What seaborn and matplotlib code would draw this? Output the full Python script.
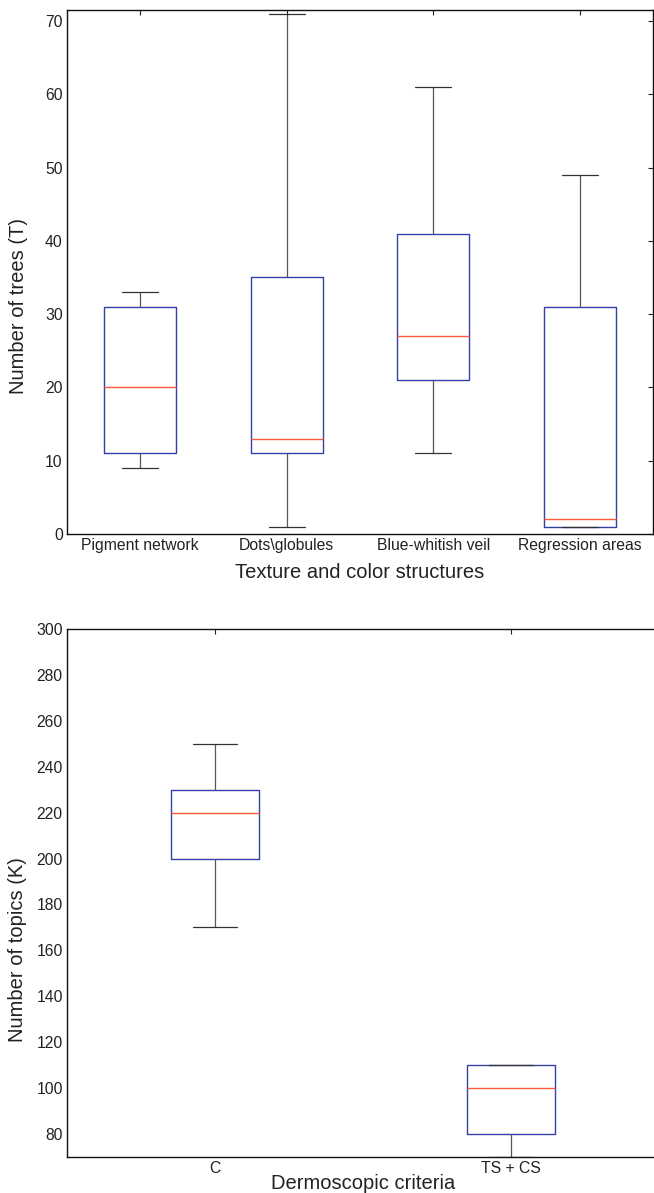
import numpy as np
import pandas as pd
import matplotlib
matplotlib.use("Agg")
import matplotlib.pyplot as plt
import seaborn as sns

# ---- data (min, q1, median, q3, max per group) ----
top_categories = ["Pigment network", "Dots\\globules", "Blue-whitish veil", "Regression areas"]
pigment_network = [9, 11, 20, 31, 33]
dots_globules = [1, 11, 13, 35, 71]
blue_whitish_veil = [11, 21, 27, 41, 61]
regression_areas = [1, 1, 2, 31, 49]
top_yticks = [0, 10, 20, 30, 40, 50, 60, 70]

bottom_categories = ["C", "TS + CS"]
criteria_c = [170, 200, 220, 230, 250]
criteria_ts_cs = [70, 80, 100, 110, 110]
bottom_yticks = [80, 100, 120, 140, 160, 180, 200, 220, 240, 260, 280, 300]

sns.set_style("white")
plt.rcParams["font.family"] = ["Liberation Sans", "DejaVu Sans"]

top_df = pd.DataFrame({
    "cat": np.repeat(top_categories, 5),
    "val": pigment_network + dots_globules + blue_whitish_veil + regression_areas,
})
bot_df = pd.DataFrame({
    "cat": np.repeat(bottom_categories, 5),
    "val": criteria_c + criteria_ts_cs,
})

W, H = 654, 1193
fig = plt.figure(figsize=(W / 100, H / 100), dpi=100)
ax1 = fig.add_axes([67 / W, 1 - 534 / H, 586 / W, 524 / H])
ax2 = fig.add_axes([67 / W, 1 - 1157 / H, 592 / W, 528 / H])

blue = "#3340a8"
red = "#ff5a3a"
common = dict(
    whis=(0, 100), showfliers=False, fill=False,
    boxprops=dict(color=blue, linewidth=1.0),
    medianprops=dict(color=red, linewidth=1.0),
    whiskerprops=dict(color="#555555", linewidth=0.9),
    capprops=dict(color="#333333", linewidth=0.9),
)

sns.boxplot(data=top_df, x="cat", y="val", ax=ax1, width=0.49, order=top_categories, **common)
sns.boxplot(data=bot_df, x="cat", y="val", ax=ax2, width=0.3, order=bottom_categories, **common)

ax1.set_xlim(-0.5, 3.5)
ax1.set_ylim(0, 71.5)
ax1.set_yticks(top_yticks)
ax1.set_xlabel("Texture and color structures", fontsize=14.5, labelpad=7, color="#222222")
ax1.set_ylabel("Number of trees (T)", fontsize=14.5, color="#222222")
ax1.yaxis.set_label_coords(-0.066, 0.436)

ax2.set_xlim(-0.5, 1.5)
ax2.set_ylim(70, 300)
ax2.set_yticks(bottom_yticks)
ax2.set_xlabel("Dermoscopic criteria", fontsize=14.5, labelpad=-1.5, color="#222222")
ax2.set_ylabel("Number of topics (K)", fontsize=14.5, color="#222222")
ax2.yaxis.set_label_coords(-0.068, 0.392)

for ax in (ax1, ax2):
    ax.tick_params(direction="in", length=3.8, width=0.8, top=True, right=True,
                   labelsize=11.3, colors="#222222", pad=3)
    for s in ax.spines.values():
        s.set_color("#111111")
        s.set_linewidth(1.0)
        s.set_visible(True)

fig.savefig("out.png", dpi=100)
